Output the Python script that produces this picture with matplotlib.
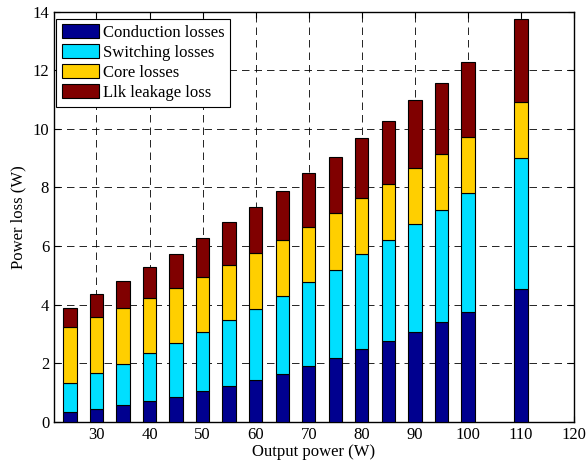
import matplotlib.pyplot as plt
import numpy as np

# output power (W) and loss components (W)
power = [25, 30, 35, 40, 45, 50, 55, 60, 65, 70, 75, 80, 85, 90, 95, 100, 110]
conduction = [0.32, 0.43, 0.57, 0.72, 0.85, 1.04, 1.23, 1.42, 1.64, 1.90, 2.17, 2.48, 2.74, 3.08, 3.40, 3.74, 4.53]
switching = [1.01, 1.25, 1.41, 1.63, 1.85, 2.04, 2.23, 2.43, 2.64, 2.86, 3.02, 3.25, 3.45, 3.66, 3.84, 4.07, 4.48]
core = [1.91, 1.90, 1.90, 1.88, 1.86, 1.87, 1.90, 1.92, 1.91, 1.90, 1.92, 1.90, 1.91, 1.92, 1.89, 1.90, 1.89]
leakage = [0.65, 0.77, 0.92, 1.06, 1.17, 1.33, 1.45, 1.55, 1.68, 1.82, 1.94, 2.06, 2.17, 2.33, 2.44, 2.57, 2.84]

names = ['Conduction losses', 'Switching losses', 'Core losses', 'Llk leakage loss']
colors = ['#00008F', '#00DFFF', '#FFCF00', '#800000']

plt.rcParams['font.family'] = ['Liberation Serif', 'DejaVu Serif']

fig = plt.figure(figsize=(5.87, 4.65), dpi=100)
ax = fig.add_axes([0.092, 0.093, 0.886, 0.882])

bottom = np.zeros(len(power))
for vals, name, c in zip([conduction, switching, core, leakage], names, colors):
    ax.bar(power, vals, width=2.5, bottom=bottom, color=c, edgecolor='black',
           linewidth=0.8, label=name, zorder=3)
    bottom += np.array(vals)

ax.set_xlim(22, 120)
ax.set_ylim(0, 14)
ax.set_xticks(np.arange(30, 121, 10))
ax.set_yticks(np.arange(0, 15, 2))
ax.grid(True, color='black', linestyle=(0, (9, 6)), linewidth=0.6, zorder=0)
ax.tick_params(direction='in', top=True, right=True, labelsize=12, length=4)
for s in ax.spines.values():
    s.set_linewidth(1.0)
ax.set_xlabel('Output power (W)', fontsize=12, labelpad=1)
ax.set_ylabel('Power loss (W)', fontsize=12, labelpad=4)

leg = ax.legend(loc='upper left', bbox_to_anchor=(0.004, 0.983), fontsize=12,
                fancybox=False, edgecolor='black', framealpha=1,
                handlelength=2.2, handleheight=0.9, borderaxespad=0,
                labelspacing=0.2, handletextpad=0.25, borderpad=0.35)
leg.get_frame().set_linewidth(0.8)

plt.savefig('out.png', dpi=100)
